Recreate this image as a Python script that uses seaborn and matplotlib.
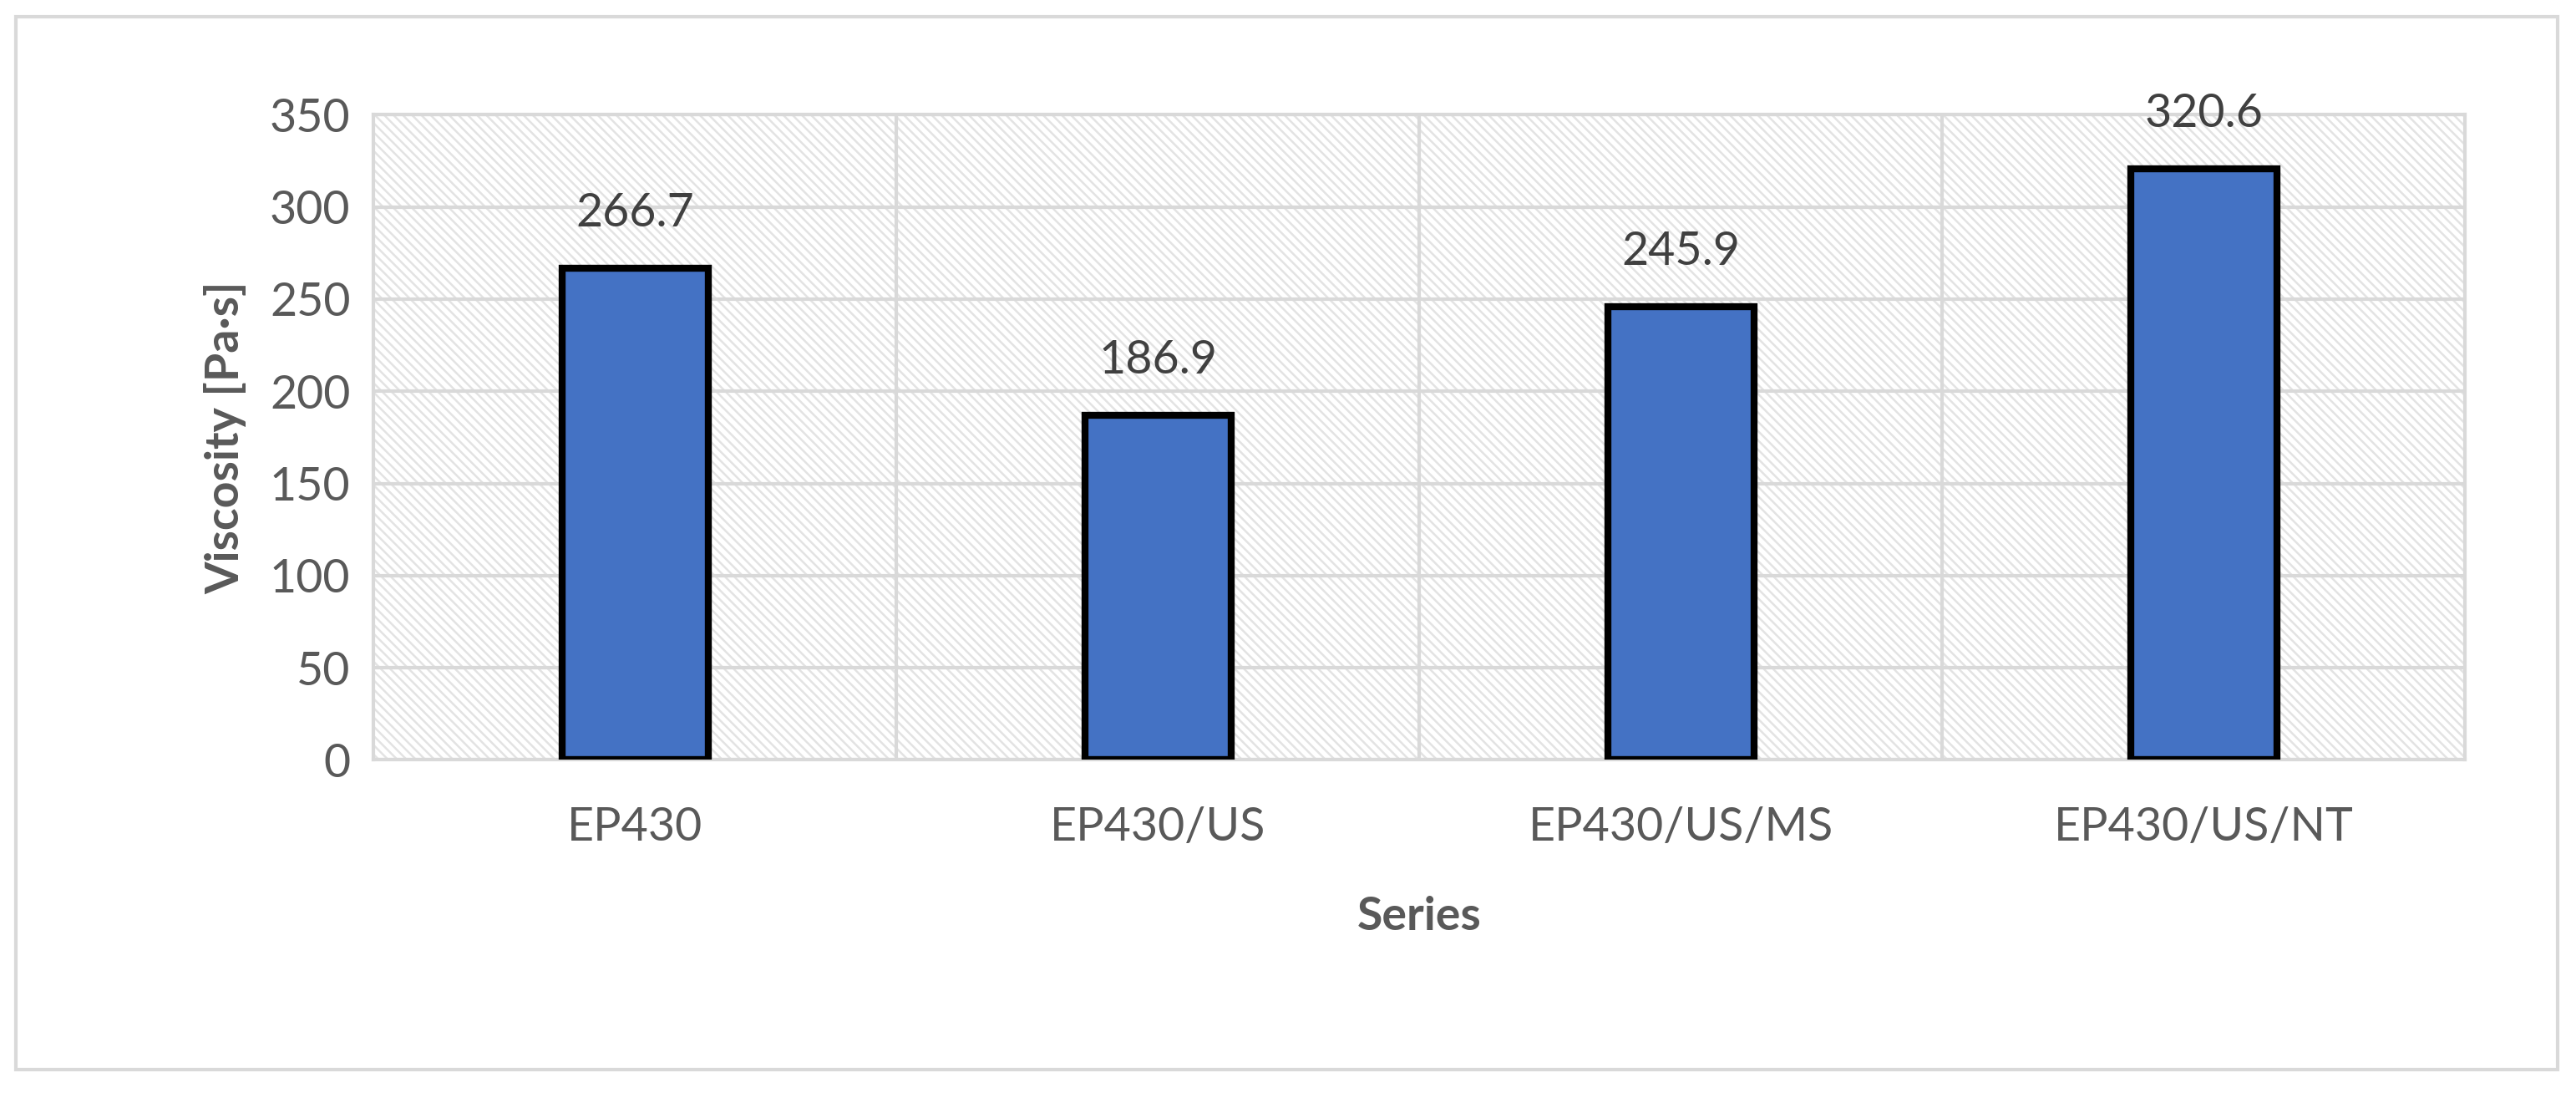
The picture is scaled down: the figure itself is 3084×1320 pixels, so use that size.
import matplotlib
matplotlib.use("Agg")
import matplotlib.pyplot as plt
import seaborn as sns
import pandas as pd
from matplotlib.patches import Rectangle

series = ["EP430", "EP430/US", "EP430/US/MS", "EP430/US/NT"]
viscosity = [266.7, 186.9, 245.9, 320.6]
yticks = [0, 50, 100, 150, 200, 250, 300, 350]

sns.set_theme(style="white")
plt.rcParams['font.family'] = ['Lato', 'DejaVu Sans']
plt.rcParams['hatch.color'] = '#D0D0D0'
plt.rcParams['hatch.linewidth'] = 1.8
txt = '#595959'

fig = plt.figure(figsize=(30.84, 13.2), dpi=100)
fig.patches.append(Rectangle((0.006, 0.03), 0.987, 0.955, transform=fig.transFigure,
                             fill=False, edgecolor='#D9D9D9', lw=3))
ax = fig.add_axes([0.145, 0.311, 0.812, 0.585])

ax.add_patch(Rectangle((0, 0), 1, 1, transform=ax.transAxes, facecolor='white',
                       edgecolor='#E3E3E3', hatch='\\\\\\', lw=0, zorder=0))

df = pd.DataFrame({"Series": series, "Viscosity": viscosity})
sns.barplot(data=df, x="Series", y="Viscosity", color='#4472C4', width=0.28,
            edgecolor='black', linewidth=6, saturation=1, ax=ax, zorder=3)

ax.set_ylim(0, 350)
ax.set_xlim(-0.5, 3.5)
ax.set_yticks(yticks)
for y in yticks:
    ax.axhline(y, color='#D9D9D9', lw=3, zorder=1)
for x in [0.5, 1.5, 2.5]:
    ax.axvline(x, color='#D9D9D9', lw=3, zorder=1)
for s in ax.spines.values():
    s.set_color('#D9D9D9')
    s.set_linewidth(3)

for i, v in enumerate(viscosity):
    ax.text(i, v + 18, f"{v}", ha='center', va='bottom', fontsize=40, color='#404040')

ax.tick_params(axis='both', labelsize=40, colors=txt, length=0)
ax.tick_params(axis='x', pad=40)
ax.tick_params(axis='y', pad=20)
ax.set_xlabel("Series", fontsize=40, fontweight='bold', color=txt, labelpad=40)
ax.set_ylabel("Viscosity [Pa·s]", fontsize=40, fontweight='bold', color=txt, labelpad=20)

fig.savefig("out.png", dpi=100)
